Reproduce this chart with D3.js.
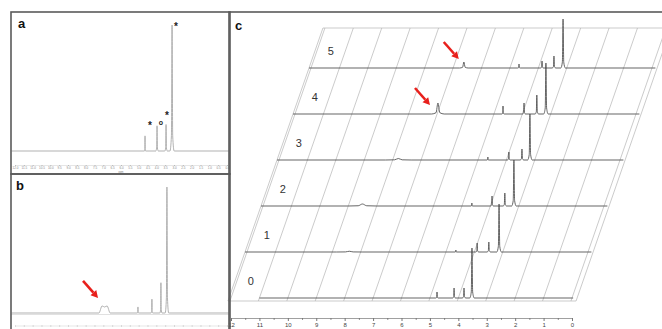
<!DOCTYPE html>
<html>
<head>
<meta charset="utf-8">
<script src="https://cdn.jsdelivr.net/npm/d3@7"></script>
<style>
  body { margin: 0; background: #fff; }
  svg { display: block; font-family: "Liberation Sans", Arial, sans-serif; }
</style>
</head>
<body>
<svg id="fig" width="662" height="329"></svg>
<script>
// ---- data ----
// tick values (ppm)
const ticksAB = d3.range(0, 12.01, 0.5);
const ticksC = d3.range(0, 13);

// peaks: [ppm, intensity (0-100), half base width (ppm), flat top half width]
const peaksA = [[4.64, 12, 0.03], [3.96, 20, 0.07], [3.45, 21, 0.07], [3.11, 100, 0.12]];
const marksA = [[4.36, 22, "*"], [3.74, 22, "o"], [3.40, 30, "*"], [2.89, 101, "*"]];

const peaksB = [[6.93, 5.6, 0.32, 0.14], [5.04, 4.8, 0.03], [4.25, 11, 0.05], [3.74, 24, 0.06], [3.40, 100, 0.1]];
const arrowsB = [[7.30, 12]];

// stacked spectra, trace 0 at the front
const traceLabels = ["0", "1", "2", "3", "4", "5"];
const traceStart = [11.0, 12.07, 12.07, 12.07, 12.07, 12.07];
const traceEnd = [-0.04, -0.12, -0.12, -0.12, -0.12, -0.12];
const peaksC = [
  [[4.75, 12, 0.04], [4.15, 20, 0.05], [3.80, 20, 0.06], [3.52, 100, 0.08]],
  [[8.40, 1.5, 0.45], [4.65, 4, 0.03], [3.90, 18, 0.05], [3.49, 20, 0.06], [3.13, 96, 0.08]],
  [[8.50, 4, 0.5], [4.65, 6, 0.03], [3.94, 20, 0.05], [3.49, 26, 0.06], [3.17, 92, 0.08]],
  [[7.80, 3, 0.45], [4.65, 6, 0.03], [3.91, 16, 0.05], [3.45, 22, 0.06], [3.17, 92, 0.08]],
  [[6.97, 22, 0.22], [4.68, 16, 0.04], [3.94, 22, 0.05], [3.49, 38, 0.06], [3.17, 102, 0.08]],
  [[6.62, 12, 0.15], [4.68, 8, 0.04], [3.87, 14, 0.05], [3.45, 24, 0.06], [3.13, 98, 0.08]]
];
const arrowsC = [[5, 6.80, 18], [4, 7.25, 18]];
const boxEdges = [12.07, -0.18];

// ---- helpers ----
const svg = d3.select("#fig");

function spectrumPoints(start, end, peaks) {
  const pts = [[start, 0]];
  peaks.slice().sort((a, b) => b[0] - a[0]).forEach(([p, h, w, t]) => {
    if (t) pts.push([p + w, 0], [p + t, h], [p, h * 0.85], [p - t, h], [p - w, 0]);
    else pts.push([p + w, 0], [p + w * 0.3, h * 0.12], [p, h], [p - w * 0.3, h * 0.12], [p - w, 0]);
  });
  pts.push([end, 0]);
  return pts;
}

function arrow(g, tx, ty) {
  // red arrow coming from the upper left
  const sx = tx - 15, sy = ty - 17;
  const ang = Math.atan2(ty - sy, tx - sx);
  const hl = 7, hw = 3.8;
  const bx = tx - hl * Math.cos(ang), by = ty - hl * Math.sin(ang);
  g.append("line").attr("x1", sx).attr("y1", sy).attr("x2", bx).attr("y2", by)
    .attr("stroke", "#e8201c").attr("stroke-width", 2.6);
  g.append("path")
    .attr("d", `M${tx},${ty}L${bx - hw * Math.sin(ang)},${by + hw * Math.cos(ang)}L${bx + hw * Math.sin(ang)},${by - hw * Math.cos(ang)}Z`)
    .attr("fill", "#e8201c");
}

// ---- panels a and b ----
const xA = d3.scaleLinear().domain([12, 0]).range([15, 227]);
const yA = d3.scaleLinear().domain([0, 100]).range([151, 25]);
const yB = d3.scaleLinear().domain([0, 100]).range([313, 187]);

function smallAxis(y, labels) {
  const ax = svg.append("g").attr("transform", `translate(0,${y})`)
    .call(d3.axisBottom(xA).tickValues(ticksAB).tickSize(1).tickSizeOuter(0).tickPadding(1)
      .tickFormat(labels ? d3.format(".1f") : ""));
  ax.select(".domain").attr("stroke", "#ccc").attr("stroke-width", 0.5);
  ax.selectAll(".tick line").attr("stroke", "#999").attr("stroke-width", 0.6);
  ax.selectAll("text").attr("font-size", 3).attr("fill", "#888");
}

const gA = svg.append("g");
gA.append("path")
  .attr("d", d3.line().x(d => xA(d[0])).y(d => yA(d[1])).curve(d3.curveMonotoneX)(spectrumPoints(12.2, -0.1, peaksA)))
  .attr("fill", "none").attr("stroke", "#a8a8a8").attr("stroke-width", 0.9);
gA.selectAll("text.mk").data(marksA).join("text").attr("class", "mk")
  .attr("x", d => xA(d[0])).attr("y", d => yA(d[1]))
  .attr("dy", d => d[2] === "*" ? 6 : 2)
  .attr("text-anchor", "middle").attr("font-weight", "bold")
  .attr("font-size", d => d[2] === "*" ? 10 : 7).attr("fill", "#222")
  .text(d => d[2]);
smallAxis(165, true);
svg.append("text").attr("x", xA(6)).attr("y", 172.5).attr("text-anchor", "middle")
  .attr("font-size", 2.6).attr("fill", "#888").text("ppm");

const gB = svg.append("g");
gB.append("line").attr("x1", 11).attr("x2", 230).attr("y1", 314.5).attr("y2", 314.5)
  .attr("stroke", "#ccc").attr("stroke-width", 0.6);
gB.append("path")
  .attr("d", d3.line().x(d => xA(d[0])).y(d => yB(d[1])).curve(d3.curveMonotoneX)(spectrumPoints(12.2, -0.1, peaksB)))
  .attr("fill", "none").attr("stroke", "#a8a8a8").attr("stroke-width", 0.9);
smallAxis(325.5, false);
arrowsB.forEach(([p, h]) => arrow(gB, xA(p), yB(h)));

// ---- panel c (stacked plot) ----
const xC = d3.scaleLinear().domain([12, 0]).range([231, 572]);
const shiftX = d3.scaleLinear().domain([0, 5]).range([0, 80]);
const baseY = d3.scaleLinear().domain([0, 5]).range([298, 68]);
const yI = d3.scaleLinear().domain([0, 100]).range([0, 50]);

const gC = svg.append("g");
const lvFloor = baseY.invert(301), lvTop = baseY.invert(28);
const pt = (ppm, lv) => [xC(ppm) + shiftX(lv), baseY(lv)];

// slanted ppm grid
gC.selectAll("line.grid").data(ticksC.concat(boxEdges)).join("line").attr("class", "grid")
  .attr("x1", d => pt(d, lvFloor)[0]).attr("y1", d => pt(d, lvFloor)[1])
  .attr("x2", d => pt(d, lvTop)[0]).attr("y2", d => pt(d, lvTop)[1])
  .attr("stroke", "#b4b4b4").attr("stroke-width", 0.7);
[lvFloor, lvTop].forEach(lv => {
  gC.append("line")
    .attr("x1", pt(boxEdges[0], lv)[0]).attr("y1", pt(boxEdges[0], lv)[1])
    .attr("x2", pt(boxEdges[1], lv)[0]).attr("y2", pt(boxEdges[1], lv)[1])
    .attr("stroke", "#b4b4b4").attr("stroke-width", 0.7);
});

// spectra
peaksC.forEach((peaks, k) => {
  const line = d3.line()
    .x(d => xC(d[0]) + shiftX(k))
    .y(d => baseY(k) - yI(d[1]))
    .curve(d3.curveMonotoneX);
  gC.append("path").attr("d", line(spectrumPoints(traceStart[k], traceEnd[k], peaks)))
    .attr("fill", "none").attr("stroke", "#4a4a4a").attr("stroke-width", 0.85);
});

gC.selectAll("text.lab").data(traceLabels).join("text").attr("class", "lab")
  .attr("x", (d, k) => xC(11.3) + shiftX(k)).attr("y", (d, k) => baseY(k) - 17)
  .attr("dy", "0.36em").attr("text-anchor", "middle")
  .attr("font-size", 11).attr("fill", "#333").text(d => d);

arrowsC.forEach(([k, p, h]) => arrow(gC, xC(p) + shiftX(k), baseY(k) - yI(h)));

// bottom ppm axis
const axC = svg.append("g").attr("transform", "translate(0,318)")
  .call(d3.axisBottom(xC).tickValues(ticksC).tickSize(3).tickSizeOuter(0).tickPadding(2).tickFormat(d3.format("d")));
axC.select(".domain").attr("stroke", "#777").attr("stroke-width", 0.7);
axC.selectAll(".tick line").attr("stroke", "#777");
axC.selectAll("text").attr("font-size", 6).attr("fill", "#444");
const axMinor = svg.append("g").attr("transform", "translate(0,318)")
  .call(d3.axisBottom(xC).tickValues(d3.range(0.5, 12, 1)).tickSize(1.8).tickSizeOuter(0).tickFormat(""));
axMinor.select(".domain").remove();
axMinor.selectAll(".tick line").attr("stroke", "#777");

// ---- panel frames and letters ----
const frames = [[11, 12, 219, 162], [11, 174, 219, 170], [229, 12, 440, 330]];
svg.selectAll("rect.frame").data(frames).join("rect").attr("class", "frame")
  .attr("x", d => d[0]).attr("y", d => d[1]).attr("width", d => d[2]).attr("height", d => d[3])
  .attr("fill", "none").attr("stroke", "#5a5a5a").attr("stroke-width", 1.6);

const letters = [["a", 18, 28], ["b", 16, 190], ["c", 235, 30]];
svg.selectAll("text.letter").data(letters).join("text").attr("class", "letter")
  .attr("x", d => d[1]).attr("y", d => d[2])
  .attr("font-size", 13).attr("font-weight", "bold").attr("fill", "#111").text(d => d[0]);
</script>
</body>
</html>
